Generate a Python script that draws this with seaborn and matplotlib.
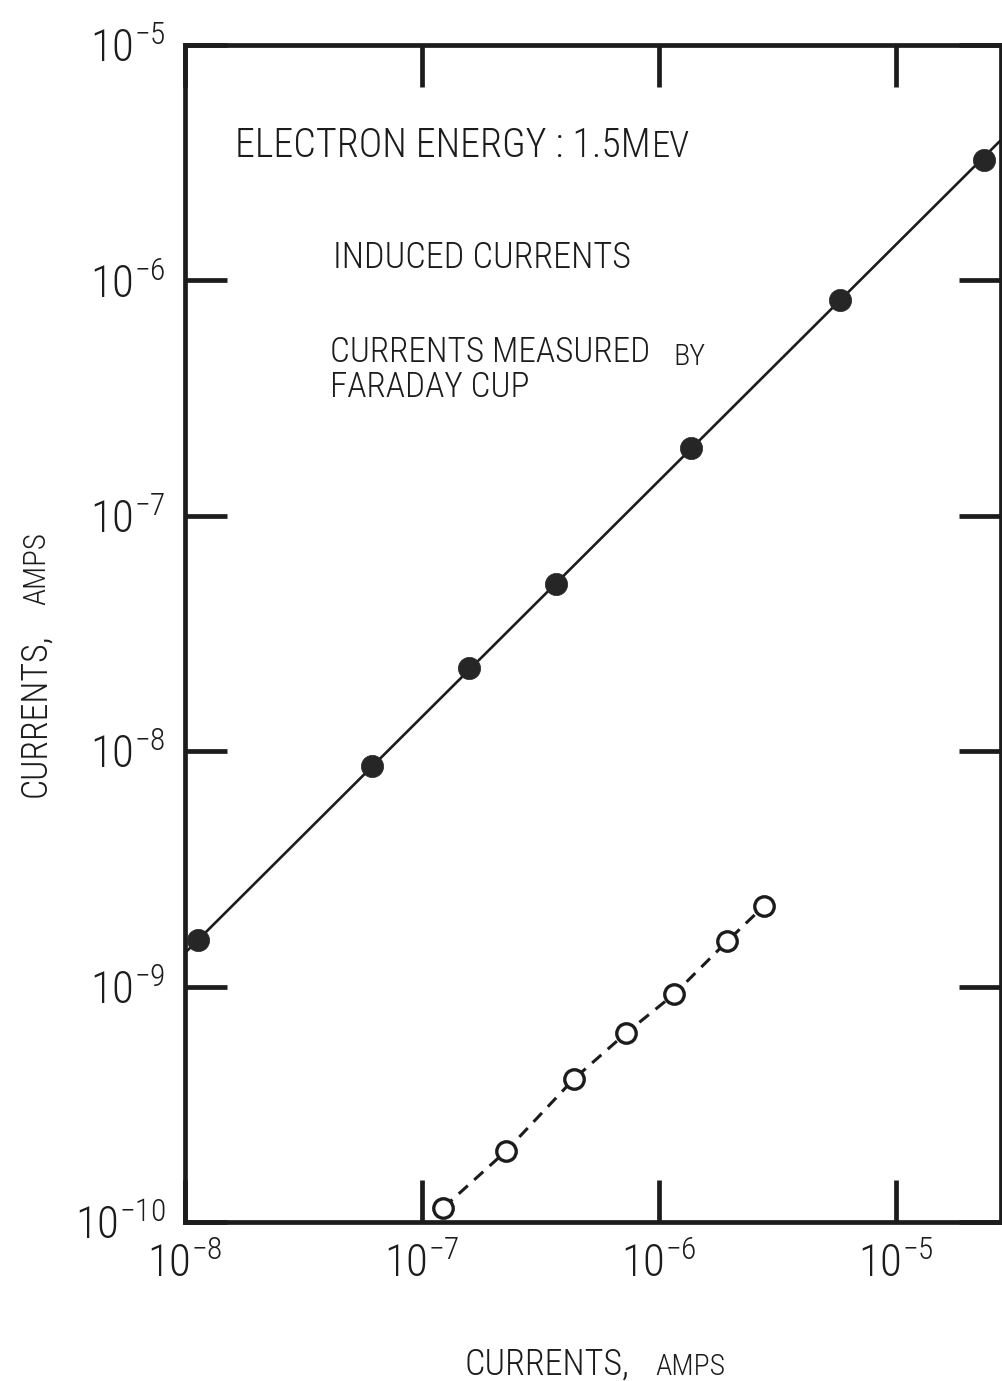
import matplotlib
matplotlib.use("Agg")
import matplotlib.pyplot as plt
import pandas as pd
import seaborn as sns
from matplotlib import font_manager

# induced currents (filled dots)
induced_x = [1.13e-8, 6.15e-8, 1.58e-7, 3.67e-7, 1.36e-6, 5.81e-6, 2.35e-5]
induced_y = [1.58e-9, 8.65e-9, 2.25e-8, 5.13e-8, 1.94e-7, 8.26e-7, 3.24e-6]
# straight line drawn through the induced currents, edge to edge
fit_x = [1.0e-8, 2.77e-5]
fit_y = [1.39e-9, 3.95e-6]
# currents measured by faraday cup (open circles)
faraday_x = [1.23e-7, 2.26e-7, 4.37e-7, 7.26e-7, 1.16e-6, 1.94e-6, 2.77e-6]
faraday_y = [1.15e-10, 2.0e-10, 4.05e-10, 6.35e-10, 9.3e-10, 1.56e-9, 2.2e-9]

x_ticks = [1e-8, 1e-7, 1e-6, 1e-5]
x_ticklabels = [r"$10^{-8}$", r"$10^{-7}$", r"$10^{-6}$", r"$10^{-5}$"]
y_ticks = [1e-10, 1e-9, 1e-8, 1e-7, 1e-6, 1e-5]
y_ticklabels = [r"$10^{-10}$", r"$10^{-9}$", r"$10^{-8}$", r"$10^{-7}$",
                r"$10^{-6}$", r"$10^{-5}$"]

W, H = 1003, 1381
INK = "#1c1c1c"

# the original lettering is narrow; take the narrowest family on hand
installed = {f.name for f in font_manager.fontManager.ttflist}
FONT = "DejaVu Sans"
for name in ["Liberation Sans Narrow", "DejaVu Sans Condensed",
             "Roboto Condensed", "Roboto"]:
    if name in installed:
        FONT = name
        break

sns.set_theme(style="ticks")
plt.rcParams["font.family"] = [FONT, "DejaVu Sans"]
plt.rcParams["font.weight"] = "light"
plt.rcParams["mathtext.fontset"] = "custom"
plt.rcParams["mathtext.rm"] = FONT
plt.rcParams["mathtext.default"] = "regular"
plt.rcParams["text.color"] = INK

fig = plt.figure(figsize=(W / 100, H / 100), dpi=100)
ax = fig.add_axes([185 / W, 1 - 1222 / H, 816 / W, 1177 / H])
renderer = fig.canvas.get_renderer()

induced = pd.DataFrame({"x": induced_x, "y": induced_y})
fit = pd.DataFrame({"x": fit_x, "y": fit_y})
faraday = pd.DataFrame({"x": faraday_x, "y": faraday_y})

sns.lineplot(data=fit, x="x", y="y", ax=ax, color=INK, lw=1.9, zorder=2)
sns.scatterplot(data=induced, x="x", y="y", ax=ax, s=16 ** 2, color="#262626",
                edgecolor="#262626", linewidth=0.5, zorder=3)
sns.lineplot(data=faraday, x="x", y="y", ax=ax, color=INK, lw=2.2, zorder=2)
ax.lines[-1].set_dashes((4.0, 2.8))
sns.scatterplot(data=faraday, x="x", y="y", ax=ax, s=14 ** 2, facecolor="white",
                edgecolor=INK, linewidth=2.4, zorder=4)

ax.set_xscale("log")
ax.set_yscale("log")
ax.set_xlim(1e-8, 2.77e-5)
ax.set_ylim(1e-10, 1e-5)
ax.set_xticks(x_ticks)
ax.set_xticklabels(x_ticklabels)
ax.set_yticks(y_ticks)
ax.set_yticklabels(y_ticklabels)
ax.minorticks_off()
ax.tick_params(which="major", direction="in", length=30, width=3.4,
               top=True, right=True, labelsize=28, colors=INK)
ax.tick_params(axis="x", pad=15)
ax.tick_params(axis="y", pad=14)
for s in ax.spines.values():
    s.set_linewidth(3.4)
    s.set_color(INK)
ax.set_xlabel("")
ax.set_ylabel("")

# scale tick labels so "10^-5" is about as wide as in the original
fig.canvas.draw()
w = ax.get_yticklabels()[-1].get_window_extent(renderer).width
ax.tick_params(labelsize=28 * 76 / w)


def put(px, py, s, size=26, **kw):
    """Text at reference pixel position (baseline, from top-left)."""
    return fig.text(px / W, 1 - py / H, s, fontsize=size, va="baseline",
                    ha="left", **kw)


def fit_len(t, length_px):
    bb = t.get_window_extent(renderer)
    t.set_fontsize(t.get_fontsize() * length_px / max(bb.width, bb.height))
    return t.get_window_extent(renderer)


t = put(235, 157, "ELECTRON ENERGY : 1.5M")
bb = fit_len(t, 415)
fit_len(put(bb.x1 + 1, 157, "EV", 18), 38)

fit_len(put(333, 268, "INDUCED CURRENTS"), 299)

# two tight lines; baseline alignment of a multi-line text uses its last line
t = put(330, 365, "CURRENTS MEASURED")
bb = fit_len(t, 320)
fit_len(put(bb.x1 + 23, 365, "BY", 18), 32)
em_px = t.get_fontsize() * 100 / 72
t.set_text("CURRENTS MEASURED\nFARADAY CUP")
t.set_linespacing(32 / (0.86 * em_px))
t.set_y(1 - 397 / H)

# x axis title
t = put(465, 1375, "CURRENTS,")
bb = fit_len(t, 165)
fit_len(put(bb.x1 + 25, 1375, "AMPS", 18), 70)

# y axis title, reading upward
t = put(45, 797, "CURRENTS,", rotation=90, rotation_mode="anchor")
bb = fit_len(t, 164)
fit_len(put(45, H - (bb.y1 + 28), "AMPS", 18, rotation=90,
            rotation_mode="anchor"), 73)

fig.savefig("out.png", dpi=100)
plt.close(fig)
